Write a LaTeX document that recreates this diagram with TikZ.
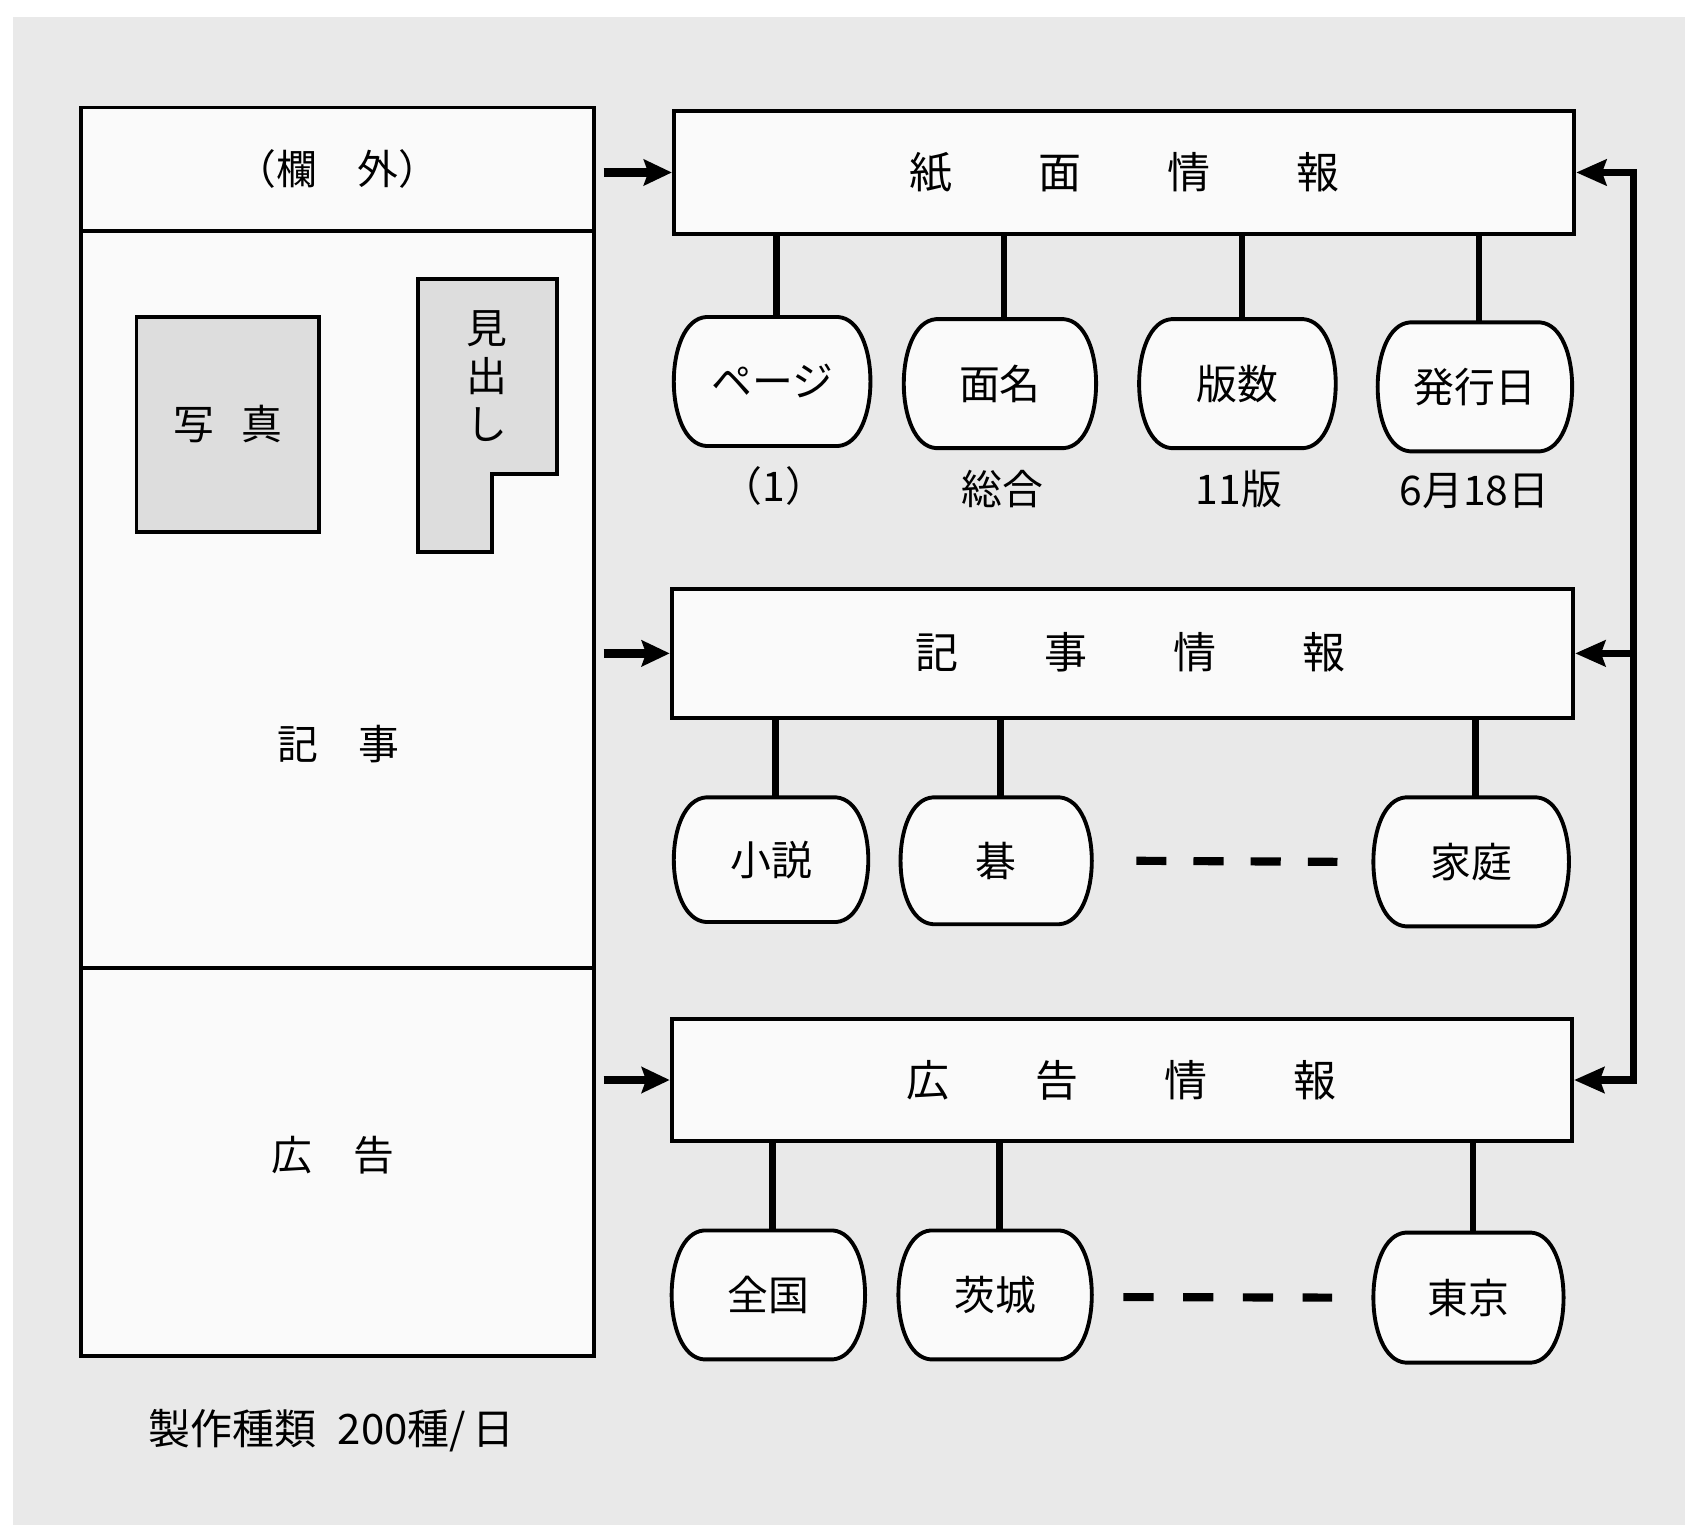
\documentclass[tikz,border=0pt]{standalone}
\usepackage{fontspec}
\setmainfont{Noto Sans CJK JP}
\usetikzlibrary{arrows.meta,calc}
\definecolor{bg}{RGB}{233,233,233}
\definecolor{boxfill}{RGB}{250,250,250}
\definecolor{shade}{RGB}{221,221,221}
\newcommand\barrel[6]{%
  \draw[barrelline] (#2+30,#3) -- (#4-30,#3)
    .. controls (#4+10,#3+3) and (#4+10,#5-3) .. (#4-30,#5)
    -- (#2+30,#5)
    .. controls (#2-10,#5-3) and (#2-10,#3+3) .. (#2+30,#3) -- cycle;
  \node[lbl, minimum width={(#4-#2)*0.5pt}, minimum height={(#5-#3)*0.5pt}] (#1) at ({(#2+#4)/2},{(#3+#5)/2}) {#6};
}
\newcommand\hsp{\hspace{40pt}}
\begin{document}
\begin{tikzpicture}[x=0.5pt,y=-0.5pt,
  sec/.style={draw, line width=1.8pt, fill=boxfill, inner sep=0pt, rectangle},
  shadebox/.style={draw, line width=1.8pt, fill=shade, inner sep=0pt},
  lbl/.style={font=\fontsize{19pt}{22.5pt}\selectfont, inner sep=0pt},
  head/.style={font=\fontsize{20pt}{24pt}\selectfont, inner sep=0pt},
  barrelline/.style={draw, line width=1.8pt, fill=boxfill},
  conn/.style={line width=3pt},
  inarr/.style={line width=4pt, -{Stealth[length=13pt,width=12pt,inset=2pt]}},
  fbtip/.tip={Stealth[length=14pt,width=12pt,inset=2pt]},
  fb/.style={line width=3.4pt, line join=miter},
  dsh/.style={line width=3.8pt, dash pattern=on 14pt off 12.6pt}
]
\useasboundingbox (0,0) rectangle (1568,1419);
\fill[white] (0,0) rectangle (1568,1419);
\fill[bg] (12,16) rectangle (1568,1419);

% left page model
\node[sec, minimum width=239pt, minimum height=57.5pt, lbl] (rangai) at (314,157.5) {（欄　外）};
\node[sec, minimum width=239pt, minimum height=343pt] (kijisec) at (314,558) {};
\node[sec, minimum width=239pt, minimum height=180.5pt] (kokusec) at (314,1081.5) {};
\node[lbl] (kijitxt) at (315,692) {記　事};
\node[lbl] (kokutxt) at (310,1075) {広　告};
\node[shadebox, minimum width=85pt, minimum height=100pt, lbl] (shashin) at (212,395) {写\hspace{12.5pt}真};
\draw[shadebox] (389,260) -- (518,260) -- (518,441) -- (458,441) -- (458,514) -- (389,514) -- cycle;
\node[lbl, align=center] (midashi) at (453,350) {見\\出\\し};

% heading boxes
\node[sec, head, minimum width=419pt, minimum height=57.5pt] (shimen) at (1046,160.5) {紙\hsp 面\hsp 情\hsp 報};
\node[sec, minimum width=419.5pt, minimum height=60pt] (kiji) at (1044.5,608) {};
\node[head] (kijihead) at (1052,607) {記\hsp 事\hsp 情\hsp 報};
\node[sec, head, minimum width=419pt, minimum height=57pt] (koukoku) at (1044,1005) {広\hsp 告\hsp 情\hsp 報};

% input arrows
\draw[inarr] ([xshift=3.5pt]rangai.east |- shimen.west) -- (shimen.west);
\draw[inarr] ([xshift=3.5pt]kijisec.east |- kiji.west) -- (kiji.west);
\draw[inarr] ([xshift=3.5pt]kokusec.east |- koukoku.west) -- (koukoku.west);

% item nodes
\barrel{pg}{627}{295}{810}{415}{ページ}
\barrel{mm}{841}{297}{1020}{417}{面名}
\barrel{hs}{1060}{297}{1243}{417}{版数}
\barrel{hk}{1282}{300}{1463}{420}{発行日}
\barrel{sh}{627}{742}{808}{858}{小説}
\barrel{go}{838}{742}{1016}{860}{碁}
\barrel{kt}{1278}{742}{1460}{862}{家庭}
\barrel{zk}{625}{1145}{805}{1265}{全国}
\barrel{ib}{836}{1145}{1016}{1265}{茨城}
\barrel{tk}{1278}{1147}{1455}{1268}{東京}

% connectors
\foreach \n in {pg,mm,hs,hk} \draw[conn] ([xshift=2pt]\n.north) -- ([xshift=2pt]\n.north |- shimen.south);
\foreach \n in {sh,go,kt} \draw[conn] ([xshift=2pt]\n.north) -- ([xshift=2pt]\n.north |- kiji.south);
\foreach \n in {zk,ib,tk} \draw[conn] ([xshift=2pt]\n.north) -- ([xshift=2pt]\n.north |- koukoku.south);

% values
\node[lbl] (v1) at (720,452) {（1）};
\node[lbl] (v2) at (933,455) {総合};
\node[lbl] (v3) at (1153,455) {11版};
\node[lbl] (v4) at (1372,457) {6月18日};

% ellipsis dashes
\coordinate (d1a) at ($(go.east)+(41,0)$);
\coordinate (d1b) at ($(kt.west)+(-33,0)$);
\draw[dsh] (d1a) -- (d1b);
\coordinate (d2a) at ($(ib.east)+(29,2)$);
\coordinate (d2b) at ($(tk.west)+(-38,0)$);
\draw[dsh, dash pattern=on 14pt off 13.8pt] (d2a) -- (d2b);

% feedback line
\coordinate (rx) at (1520,0);
\draw[fb, fbtip-fbtip] (shimen.east) -- (shimen.east -| rx) -- (koukoku.east -| rx) -- (koukoku.east);
\draw[fb, -fbtip] (kiji.east -| rx) -- (kiji.east);

% caption
\node[lbl, anchor=west, font=\fontsize{19.5pt}{23pt}\selectfont] (caption) at (138,1331) {製作種類\hspace{10pt}200種/\hspace{3pt}日};
\end{tikzpicture}
\end{document}
